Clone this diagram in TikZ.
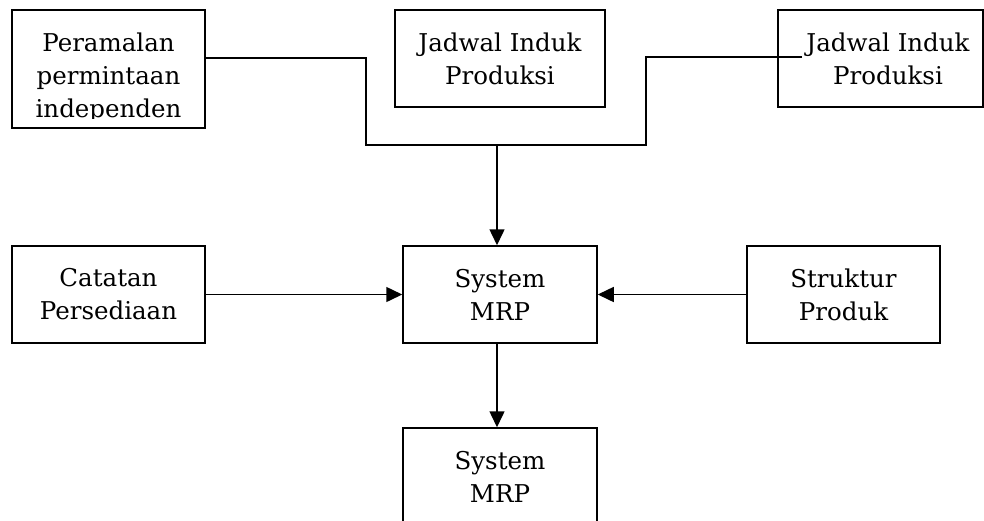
\documentclass[tikz,border=0pt]{standalone}
\usepackage{fontspec}
\setmainfont{DejaVu Serif}
\usetikzlibrary{arrows.meta}
\begin{document}
\begin{tikzpicture}[x=1pt,y=-1pt,
  box/.style={draw, line width=1.5pt, inner sep=0pt, align=center, font=\fontsize{24.5}{33}\selectfont},
  txt/.style={inner sep=0pt, align=center, font=\fontsize{24.5}{33}\selectfont},
  conn/.style={line width=1.5pt},
  arr/.style={conn, -{Triangle[length=16pt,width=15pt]}}]
\useasboundingbox (0,0) rectangle (984,520);
\clip (0,0) rectangle (984,520);
% boxes
\node[box, minimum width=193pt, minimum height=118pt] (per) at (108.5,69) {};
\begin{scope}
  \clip (12,10) rectangle (205,118);
  \node[txt] (pertxt) at (108.5,78) {Peramalan\\permintaan\\independen};
\end{scope}
\node[box, minimum width=210pt, minimum height=97pt] (jip1) at (500,58.5) {Jadwal Induk\\Produksi};
\node[box, minimum width=205pt, minimum height=97pt] (jip2) at (880.5,58.5) {};
\node[txt] (jip2txt) at (888,58.5) {Jadwal Induk\\Produksi};
\node[box, minimum width=193pt, minimum height=97pt] (cat) at (108.5,294.5) {Catatan\\Persediaan};
\node[box, minimum width=194pt, minimum height=97pt] (mrp) at (500,294.5) {System\\MRP};
\node[box, minimum width=193pt, minimum height=97pt] (str) at (843.5,294.5) {Struktur\\Produk};
\node[box, minimum width=194pt, minimum height=97pt] (out) at (500,476.5) {System\\MRP};
% connector points
\coordinate (pout) at (205,58);
\coordinate (rin) at (802,57);
\coordinate (j1) at (366,145);
\coordinate (jn) at (497,145);
\coordinate (j2) at (646,145);
% connectors
\draw[conn] (pout) -| (j1) -- (jn);
\draw[conn] (rin) -| (j2) -- (jn);
\draw[arr] (jn) -- (jn |- mrp.north);
\draw[arr] (cat.east) -- (mrp.west);
\draw[arr] (str.west) -- (mrp.east);
\draw[arr] ([xshift=-3pt]mrp.south) -- ([xshift=-3pt]out.north);
\end{tikzpicture}
\end{document}
